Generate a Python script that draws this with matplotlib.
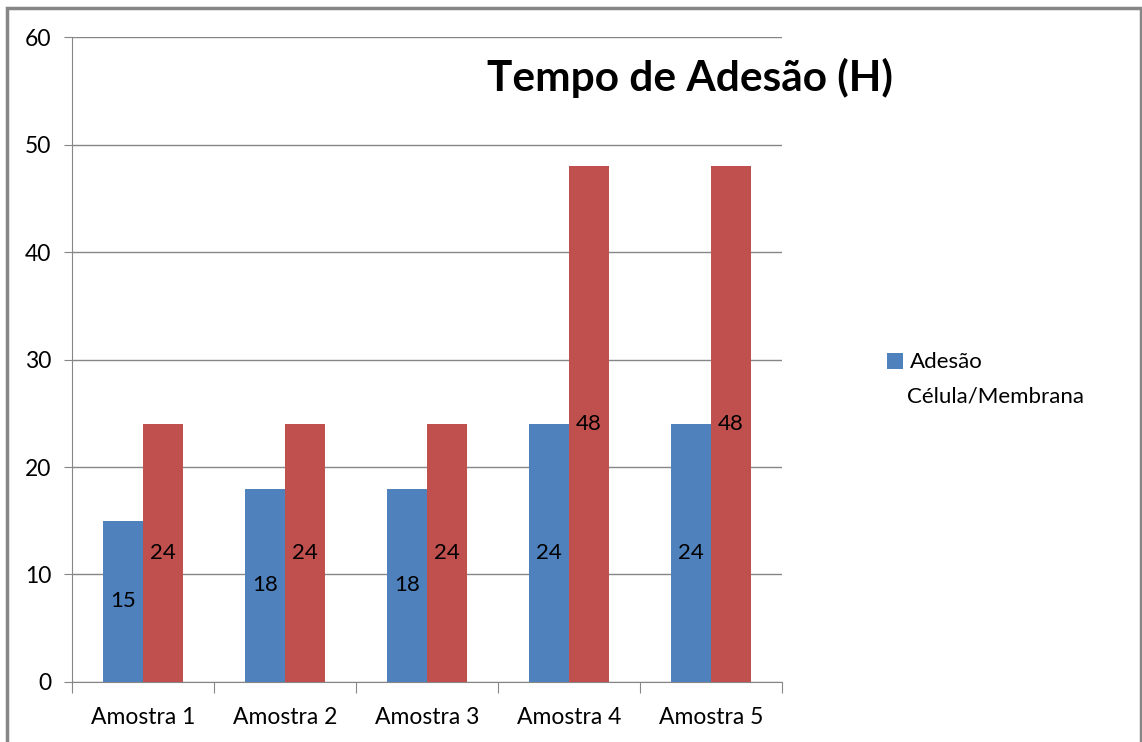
import matplotlib
matplotlib.use("Agg")
import matplotlib.pyplot as plt
import numpy as np
from matplotlib.patches import Rectangle

categories = ["Amostra 1", "Amostra 2", "Amostra 3", "Amostra 4", "Amostra 5"]
adesao = [15, 18, 18, 24, 24]
segunda = [24, 24, 24, 48, 48]
series_label_l1 = "Adesão"
series_label_l2 = "Célula/Membrana"
title = "Tempo de Adesão (H)"

plt.rcParams['font.family'] = ['Lato', 'DejaVu Sans']

fig = plt.figure(figsize=(11.42, 7.42), dpi=100)
ax = fig.add_axes([0.063, 0.081, 0.622, 0.8685])

x = np.arange(len(categories))
w = 0.28
b1 = ax.bar(x - w/2, adesao, w, color="#4F81BD", label=series_label_l1, zorder=3)
b2 = ax.bar(x + w/2, segunda, w, color="#C0504D", label="_nolegend_", zorder=3)

for rect, v in zip(b1, adesao):
    ax.text(rect.get_x() + rect.get_width()/2, v/2, str(v), ha="center", va="center",
            fontsize=16, color="black", zorder=4)
for rect, v in zip(b2, segunda):
    ax.text(rect.get_x() + rect.get_width()/2, v/2, str(v), ha="center", va="center",
            fontsize=16, color="black", zorder=4)

ax.set_xlim(-0.5, len(categories) - 0.5)
ax.set_ylim(0, 60)
ax.set_yticks(np.arange(0, 61, 10))
ax.set_xticks(np.arange(-0.5, len(categories), 1.0), minor=False)
ax.set_xticklabels([])
ax.set_xticks(x, minor=True)
ax.set_xticklabels(categories, minor=True, fontsize=16.5)
ax.tick_params(axis="x", which="minor", length=0, pad=18)
ax.tick_params(axis="x", which="major", length=8, color="#868686", direction="out")
ax.tick_params(axis="y", length=6, color="#868686", labelsize=16.5, pad=9)
ax.yaxis.grid(True, color="#868686", linewidth=1, zorder=0)
for s in ["top", "right"]:
    ax.spines[s].set_visible(False)
for s in ["left", "bottom"]:
    ax.spines[s].set_color("#868686")

fig.text(0.604, 0.895, title, ha="center", va="center", fontsize=30.5, fontweight="bold")

leg = fig.legend(handles=[b1], labels=[series_label_l1], loc="center left",
                 bbox_to_anchor=(0.7765, 0.5115), frameon=False, fontsize=16,
                 handlelength=0.75, handleheight=0.75, handletextpad=0.3,
                 borderaxespad=0, borderpad=0)
fig.text(0.7945, 0.466, series_label_l2, ha="left", va="center", fontsize=16)

fig.patches.append(Rectangle((0.0065, -0.05), 0.9925, 1.039, transform=fig.transFigure,
                             fill=False, edgecolor="#868686", linewidth=2.5))

fig.savefig("out.png", dpi=100)
